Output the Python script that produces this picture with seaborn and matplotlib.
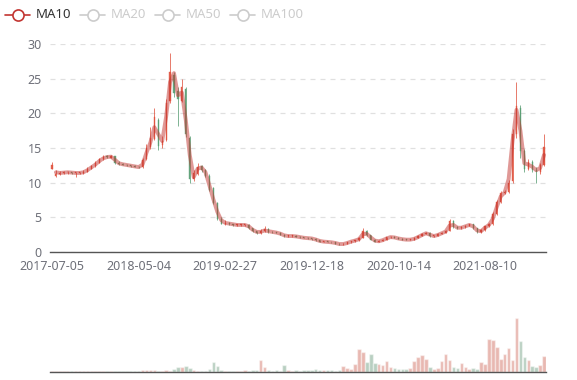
import numpy as np
import pandas as pd
import matplotlib
matplotlib.use('Agg')
import matplotlib.pyplot as plt
from matplotlib.lines import Line2D
import seaborn as sns

# dados (um ponto ~ uma semana de pregão)
close = [12.6, 11.2, 11.4, 11.5, 11.5, 11.4, 11.4, 11.4, 11.6, 12.0,
         12.4, 12.9, 13.4, 13.7, 13.7, 13.8, 12.9, 12.7, 12.6, 12.5,
         12.4, 12.3, 12.2, 13.2, 15.0, 16.5, 19.5, 15.3, 16.0, 21.5,
         26.0, 23.0, 22.0, 23.8, 17.0, 10.6, 11.4, 12.3, 11.8, 11.0,
         9.0, 7.0, 4.8, 4.1, 4.2, 4.0, 3.9, 3.9, 3.9, 3.9,
         3.4, 3.0, 2.7, 3.1, 3.3, 2.9, 2.85, 2.8, 2.5, 2.3,
         2.3, 2.3, 2.2, 2.1, 2.05, 2.0, 1.9, 1.7, 1.5, 1.5,
         1.45, 1.4, 1.2, 1.1, 1.2, 1.4, 1.55, 1.7, 2.0, 3.1,
         2.4, 1.8, 1.5, 1.6, 1.8, 2.1, 2.2, 2.0, 1.9, 1.8,
         1.75, 1.8, 2.0, 2.3, 2.6, 2.8, 2.3, 2.3, 2.6, 2.8,
         3.1, 4.5, 3.6, 3.4, 3.6, 3.8, 4.0, 3.4, 2.9, 3.2,
         3.7, 4.0, 5.5, 7.2, 8.5, 8.7, 10.0, 17.0, 21.0, 14.5,
         12.0, 13.0, 11.8, 11.5, 12.5, 15.2]

open_ = [12.0, 11.0, 11.2, 11.4, 11.5, 11.5, 11.4, 11.4, 11.4, 11.6,
         12.0, 12.4, 12.9, 13.4, 13.8, 13.6, 13.8, 12.9, 12.7, 12.6,
         12.5, 12.4, 12.3, 12.2, 13.4, 15.2, 16.3, 19.0, 15.4, 16.2,
         21.8, 25.5, 23.2, 21.8, 23.5, 16.5, 10.5, 11.3, 12.4, 11.8,
         11.0, 9.2, 7.0, 4.8, 4.0, 4.2, 4.0, 3.9, 3.9, 3.9,
         3.9, 3.4, 3.0, 2.7, 3.0, 3.3, 2.9, 2.85, 2.8, 2.5,
         2.3, 2.3, 2.3, 2.2, 2.1, 2.05, 2.0, 1.9, 1.7, 1.5,
         1.5, 1.45, 1.4, 1.2, 1.1, 1.2, 1.4, 1.55, 1.7, 2.0,
         3.1, 2.4, 1.8, 1.5, 1.6, 1.8, 2.1, 2.2, 2.0, 1.9,
         1.8, 1.75, 1.8, 2.0, 2.3, 2.6, 2.8, 2.3, 2.3, 2.6,
         2.8, 3.1, 4.4, 3.6, 3.4, 3.6, 3.8, 4.0, 3.4, 2.9,
         3.2, 3.7, 4.0, 5.5, 7.2, 8.5, 8.7, 10.2, 17.0, 20.8,
         14.5, 12.0, 13.0, 11.8, 11.5, 12.5]

high = [13.0, 11.8, 11.7, 11.7, 11.7, 11.6, 11.6, 11.6, 11.8, 12.2,
        12.6, 13.1, 13.6, 14.0, 14.0, 14.0, 13.9, 13.1, 12.8, 12.7,
        12.6, 12.5, 12.4, 13.6, 15.6, 18.1, 20.7, 19.3, 16.8, 22.0,
        28.7, 26.0, 23.8, 25.0, 23.8, 16.8, 11.8, 12.8, 12.6, 12.0,
        11.2, 9.4, 7.2, 5.0, 4.6, 4.3, 4.1, 4.0, 4.0, 4.0,
        4.0, 3.5, 3.1, 3.3, 3.7, 3.4, 3.0, 2.95, 2.85, 2.6,
        2.4, 2.4, 2.4, 2.3, 2.2, 2.1, 2.05, 1.95, 1.75, 1.6,
        1.6, 1.5, 1.45, 1.3, 1.25, 1.45, 1.6, 1.75, 2.1, 3.4,
        3.2, 2.5, 1.9, 1.7, 1.9, 2.2, 2.3, 2.3, 2.1, 2.0,
        1.9, 1.9, 2.1, 2.4, 2.7, 2.9, 2.9, 2.4, 2.7, 2.9,
        3.2, 4.8, 4.6, 3.7, 3.7, 3.9, 4.1, 4.1, 3.5, 3.3,
        3.8, 4.2, 5.7, 7.5, 8.8, 9.0, 10.4, 17.8, 24.5, 21.2,
        14.8, 13.4, 13.3, 12.2, 12.8, 17.0]

low = [11.9, 10.8, 11.1, 11.3, 11.3, 11.2, 10.8, 11.2, 11.3, 11.5,
       11.9, 12.3, 12.8, 13.3, 13.5, 13.5, 12.7, 12.6, 12.5, 12.4,
       12.3, 12.2, 12.1, 12.1, 13.2, 14.8, 16.1, 14.7, 15.0, 16.0,
       21.5, 22.4, 18.2, 21.6, 16.6, 10.0, 10.2, 11.1, 11.6, 10.8,
       8.8, 6.9, 4.6, 4.0, 3.9, 3.9, 3.8, 3.8, 3.8, 3.8,
       3.3, 2.9, 2.6, 2.6, 2.9, 2.8, 2.75, 2.7, 2.4, 2.2,
       2.2, 2.2, 2.1, 2.0, 2.0, 1.9, 1.8, 1.6, 1.45, 1.4,
       1.4, 1.3, 1.15, 1.05, 1.05, 1.15, 1.35, 1.5, 1.65, 1.95,
       2.3, 1.7, 1.4, 1.45, 1.55, 1.75, 2.0, 1.95, 1.85, 1.75,
       1.7, 1.7, 1.75, 1.95, 2.25, 2.55, 2.2, 2.2, 2.25, 2.55,
       2.7, 3.0, 3.5, 3.3, 3.3, 3.5, 3.7, 3.3, 2.8, 2.8,
       3.1, 3.6, 3.9, 5.3, 7.0, 8.3, 8.5, 9.9, 16.5, 13.5,
       11.6, 11.8, 11.5, 10.0, 11.3, 12.4]

ma10 = [None, 11.5, 11.4, 11.45, 11.5, 11.45, 11.4, 11.4, 11.5, 11.8,
        12.2, 12.6, 13.1, 13.5, 13.7, 13.75, 13.3, 12.8, 12.65, 12.55,
        12.45, 12.35, 12.25, 12.6, 14.3, 15.8, 18.0, 17.0, 16.0, 19.5,
        24.5, 25.8, 22.6, 23.0, 19.0, 14.0, 10.8, 12.0, 12.2, 11.5,
        9.6, 7.6, 5.8, 4.6, 4.2, 4.1, 4.0, 3.9, 3.9, 3.9,
        3.7, 3.2, 2.9, 2.9, 3.1, 3.0, 2.9, 2.8, 2.65, 2.4,
        2.3, 2.3, 2.25, 2.15, 2.05, 2.0, 1.95, 1.8, 1.6, 1.5,
        1.45, 1.4, 1.3, 1.15, 1.15, 1.3, 1.5, 1.65, 1.85, 2.6,
        2.6, 2.1, 1.65, 1.55, 1.7, 1.95, 2.15, 2.1, 1.95, 1.85,
        1.78, 1.78, 1.9, 2.15, 2.45, 2.7, 2.5, 2.3, 2.45, 2.7,
        2.95, 3.8, 3.9, 3.5, 3.5, 3.7, 3.9, 3.7, 3.1, 3.0,
        3.5, 3.9, 4.8, 6.5, 8.0, 8.6, 10.5, 16.0, 20.5, 17.5,
        12.8, 12.6, 12.3, 11.8, 12.1, 14.0]

volume = [3, 2, 2, 2, 2, 2, 2, 2, 2, 3,
          3, 3, 3, 3, 2, 2, 2, 2, 2, 2,
          2, 2, 3, 5, 6, 5, 7, 4, 4, 5,
          4, 10, 14, 16, 17, 12, 5, 4, 3, 3,
          8, 30, 18, 6, 4, 3, 4, 3, 4, 6,
          4, 5, 6, 37, 15, 5, 4, 5, 4, 22,
          5, 4, 6, 4, 5, 7, 5, 8, 6, 5,
          6, 5, 4, 6, 17, 12, 8, 25, 70, 61,
          30, 54, 28, 25, 20, 34, 14, 12, 10, 9,
          8, 12, 33, 45, 52, 40, 14, 10, 12, 33,
          55, 35, 15, 12, 27, 14, 10, 12, 8, 30,
          25, 100, 95, 75, 40, 55, 72, 35, 163, 93,
          45, 35, 18, 15, 20, 48]

tick_labels = ['2017-07-05', '2018-05-04', '2019-02-27',
               '2019-12-18', '2020-10-14', '2021-08-10']
tick_step = 22

df = pd.DataFrame({'open': open_, 'close': close, 'high': high,
                   'low': low, 'ma10': ma10, 'volume': volume})
df['ma10'] = df['ma10'].astype(float)
df['idx'] = np.arange(len(df))
df['dir'] = np.where(df['close'] >= df['open'], 'up', 'down')
n = len(df)

up_color = '#e0533f'
down_color = '#5a9e74'
ma_color = '#c23531'
axis_color = '#555555'
label_color = '#6e7079'

sns.set_style('white')
plt.rcParams['font.family'] = ['Noto Sans', 'DejaVu Sans']

fig = plt.figure(figsize=(5.77, 3.8), dpi=100)
ax = fig.add_axes([50 / 577, 1 - 252 / 380, 496 / 577, 208 / 380])
ax2 = fig.add_axes([50 / 577, 1 - 372 / 380, 496 / 577, 72 / 380])

# candles
colors = np.where(df['dir'] == 'up', up_color, down_color)
ax.vlines(df['idx'], df['low'], df['high'], colors=colors, linewidth=0.6,
          alpha=0.9, zorder=3)
body_lo = df[['open', 'close']].min(axis=1)
body_h = (df['close'] - df['open']).abs().clip(lower=0.08)
ax.bar(df['idx'], body_h, bottom=body_lo, width=0.3, color=colors,
       edgecolor=colors, linewidth=0.3, alpha=0.9, zorder=3)

# MA10
sns.lineplot(data=df, x='idx', y='ma10', ax=ax, color=ma_color, alpha=0.5,
             linewidth=2.8, zorder=4, legend=False)

ax.set_xlim(-0.5, n - 0.5)
ax.set_ylim(0, 30)
ax.set_yticks(range(0, 31, 5))
ax.set_xticks(range(0, tick_step * len(tick_labels), tick_step))
ax.set_xticklabels(tick_labels)
ax.set_xlabel('')
ax.set_ylabel('')
ax.grid(axis='y', color='#e0e0e0', linestyle=(0, (4, 4)), linewidth=0.9)
ax.set_axisbelow(True)
for s in ['top', 'right', 'left']:
    ax.spines[s].set_visible(False)
ax.spines['bottom'].set_color(axis_color)
ax.spines['bottom'].set_linewidth(1.0)
ax.tick_params(axis='x', length=4, width=1, color=axis_color,
               labelcolor=label_color, labelsize=9, pad=2)
ax.tick_params(axis='y', length=0, labelcolor=label_color, labelsize=9, pad=6)

# volume
sns.barplot(data=df, x='idx', y='volume', hue='dir', dodge=False, ax=ax2,
            palette={'up': up_color, 'down': down_color}, alpha=0.45,
            width=0.9, legend=False, native_scale=True)
ax2.set_xlim(-0.5, n - 0.5)
ax2.set_ylim(0, 217)
ax2.set_xticks([])
ax2.set_yticks([])
ax2.set_xlabel('')
ax2.set_ylabel('')
for s in ['top', 'right', 'left']:
    ax2.spines[s].set_visible(False)
ax2.spines['bottom'].set_color(axis_color)
ax2.spines['bottom'].set_linewidth(1.0)

# legenda (MA10 ativo, demais desligados)
legend_items = ['MA10', 'MA20', 'MA50', 'MA100']
legend_x = [5, 80, 155, 230]
for name, x0 in zip(legend_items, legend_x):
    c = ma_color if name == 'MA10' else '#cccccc'
    tc = '#333333' if name == 'MA10' else '#cccccc'
    y = 1 - 15 / 380
    fig.add_artist(Line2D([x0 / 577, (x0 + 25) / 577], [y, y], color=c,
                          linewidth=1.2, transform=fig.transFigure))
    fig.add_artist(Line2D([(x0 + 12.5) / 577], [y], marker='o', markersize=8,
                          markerfacecolor='white', markeredgecolor=c,
                          markeredgewidth=1.2, transform=fig.transFigure))
    fig.text((x0 + 31) / 577, y, name, color=tc, fontsize=9.5,
             va='center', ha='left')

fig.savefig('out.png', dpi=100)
